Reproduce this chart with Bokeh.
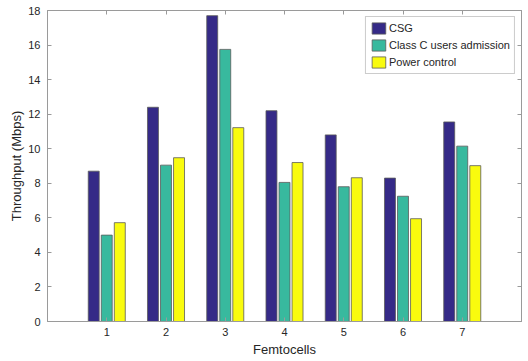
from bokeh.plotting import figure
from bokeh.models import ColumnDataSource, LinearAxis, FixedTicker, CustomJSTickFormatter
from bokeh.transform import dodge
from bokeh.embed import file_html
from bokeh.resources import INLINE

femtocells = [1, 2, 3, 4, 5, 6, 7]
csg = [8.7, 12.4, 17.7, 12.2, 10.8, 8.3, 11.55]
class_c = [5.0, 9.05, 15.75, 8.05, 7.8, 7.25, 10.15]
power_control = [5.72, 9.48, 11.22, 9.2, 8.32, 5.95, 9.02]
y_ticks = [0, 2, 4, 6, 8, 10, 12, 14, 16, 18]

series_names = ["CSG", "Class C users admission", "Power control"]
colors = ["#352A87", "#38B99E", "#F9FB0E"]

src = ColumnDataSource(dict(x=femtocells, csg=csg, cc=class_c, pc=power_control))

FONT = "Liberation Sans"
AX_COLOR = "#9a9a9a"
TXT = "#262626"

p = figure(width=528, height=361, x_range=(0, 8), y_range=(0, 18),
           output_backend="svg", toolbar_location=None,
           min_border_left=47, min_border_right=7, min_border_top=10, min_border_bottom=40)

p.xgrid.grid_line_color = None
p.ygrid.grid_line_color = None
p.outline_line_color = AX_COLOR
p.background_fill_color = "white"

offsets = [-0.22, 0.0, 0.22]
fields = ["csg", "cc", "pc"]
for f, off, c, name in zip(fields, offsets, colors, series_names):
    p.vbar(x=dodge("x", off, range=p.x_range), top=f, width=0.185, source=src,
           fill_color=c, line_color="#5a5a5a", line_width=0.8, legend_label=name)

def style_axis(ax):
    ax.axis_line_color = AX_COLOR
    ax.major_tick_line_color = AX_COLOR
    ax.minor_tick_line_color = None
    ax.major_tick_in = 4
    ax.major_tick_out = 0
    ax.major_label_text_font = FONT
    ax.major_label_text_font_size = "11px"
    ax.major_label_text_color = TXT
    ax.axis_label_text_font = FONT
    ax.axis_label_text_font_size = "13px"
    ax.axis_label_text_font_style = "normal"
    ax.axis_label_text_color = TXT

p.xaxis.ticker = FixedTicker(ticks=femtocells)
p.yaxis.ticker = FixedTicker(ticks=y_ticks)
p.xaxis.axis_label = "Femtocells"
p.yaxis.axis_label = "Throughput (Mbps)"
style_axis(p.xaxis[0])
style_axis(p.yaxis[0])
p.xaxis.major_label_standoff = 6
p.xaxis.axis_label_standoff = 3
p.yaxis.major_label_standoff = 7
p.yaxis.axis_label_standoff = 1

empty = CustomJSTickFormatter(code="return ''")
top_ax = LinearAxis(ticker=FixedTicker(ticks=femtocells), formatter=empty)
right_ax = LinearAxis(ticker=FixedTicker(ticks=y_ticks), formatter=empty)
for ax in (top_ax, right_ax):
    style_axis(ax)
    ax.major_label_standoff = 0
p.add_layout(top_ax, "above")
p.add_layout(right_ax, "right")

lg = p.legend[0]
lg.location = "top_right"
lg.margin = 6
lg.padding = 4
lg.spacing = 3
lg.glyph_width = 17
lg.glyph_height = 14
lg.label_standoff = 2
lg.label_height = 14
lg.label_text_font = FONT
lg.label_text_font_size = "11px"
lg.label_text_color = TXT
lg.border_line_color = AX_COLOR
lg.background_fill_alpha = 1.0

open("out.html", "w").write(file_html(p, INLINE))
